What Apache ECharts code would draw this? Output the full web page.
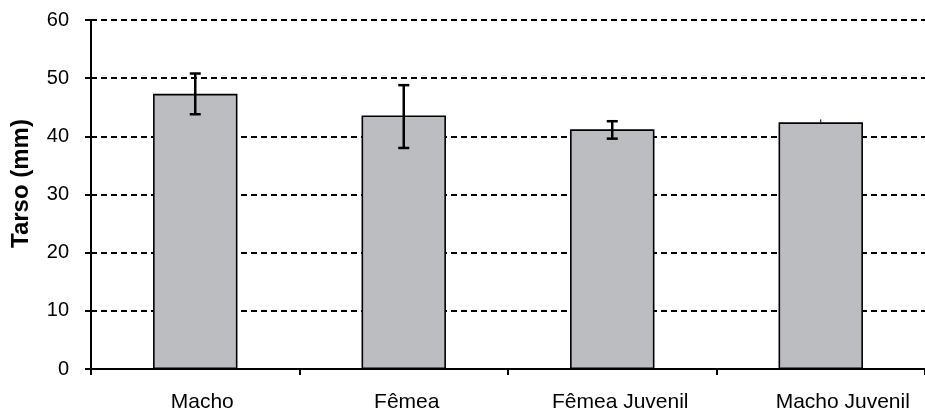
<!DOCTYPE html>
<html>
<head>
<meta charset="utf-8">
<script src="https://cdn.jsdelivr.net/npm/echarts@6/dist/echarts.min.js"></script>
<style>html,body{margin:0;padding:0;background:#fff;}#c{width:925px;height:414px;}</style>
</head>
<body>
<div id="c"></div>
<script>
var categories = ['Macho', 'Fêmea', 'Fêmea Juvenil', 'Macho Juvenil'];
var means = [47.3, 43.6, 41.2, 42.4];
var errHigh = [50.8, 48.8, 42.6, 42.4];
var errLow = [43.8, 38.0, 39.6, 42.4];
var yTicks = [0, 10, 20, 30, 40, 50, 60];

// small horizontal nudges of the category labels (layout only)
var labelShift = [14, 6, 16, 44];

var chart = echarts.init(document.getElementById('c'), null, {renderer: 'canvas'});
var font = 'Liberation Sans, Arial, sans-serif';
chart.setOption({
  animation: false,
  backgroundColor: '#fff',
  grid: {left: 91, top: 20, width: 844, height: 349, containLabel: false},
  xAxis: {
    type: 'category',
    data: categories.map(function (c, i) {
      return {value: c, textStyle: {padding: [0, 0, 0, labelShift[i]]}};
    }),
    boundaryGap: true,
    axisLine: {lineStyle: {color: '#000', width: 2}},
    axisTick: {show: true, length: 6, lineStyle: {color: '#000', width: 2}},
    axisLabel: {color: '#000', fontSize: 21, fontFamily: font, margin: 23},
    splitLine: {show: false}
  },
  yAxis: {
    type: 'value',
    min: yTicks[0],
    max: yTicks[yTicks.length - 1],
    interval: 10,
    name: 'Tarso (mm)',
    nameLocation: 'middle',
    nameGap: 58,
    nameTextStyle: {color: '#000', fontSize: 24, fontWeight: 'bold', fontFamily: font, padding: [0, 0, 0, 22]},
    axisLine: {show: true, lineStyle: {color: '#000', width: 2}},
    axisTick: {show: true, length: 6, lineStyle: {color: '#000', width: 2}},
    axisLabel: {color: '#000', fontSize: 20, fontFamily: font, margin: 22},
    splitLine: {show: true, lineStyle: {color: '#000', width: 1.8, type: [6, 4]}}
  },
  series: [
    {
      type: 'bar',
      data: means,
      barWidth: '40.5%',
      itemStyle: {color: '#bcbdc0', borderColor: '#000', borderWidth: 1.6},
      z: 2
    },
    {
      type: 'custom',
      z: 3,
      data: categories.map(function (c, i) { return [i, errLow[i], errHigh[i]]; }),
      renderItem: function (params, api) {
        var lo = api.value(1), hi = api.value(2);
        if (hi - lo < 0.01) {
          var p = api.coord([api.value(0), hi]);
          return {type: 'line', shape: {x1: p[0], y1: p[1], x2: p[0], y2: p[1] - 3}, style: {stroke: '#000', lineWidth: 1}};
        }
        var top = api.coord([api.value(0), hi]);
        var bot = api.coord([api.value(0), lo]);
        var hw = 5.5;
        var st = {stroke: '#000', lineWidth: 2.5};
        return {
          type: 'group',
          children: [
            {type: 'line', shape: {x1: top[0], y1: top[1], x2: bot[0], y2: bot[1]}, style: st},
            {type: 'line', shape: {x1: top[0] - hw, y1: top[1], x2: top[0] + hw, y2: top[1]}, style: st},
            {type: 'line', shape: {x1: bot[0] - hw, y1: bot[1], x2: bot[0] + hw, y2: bot[1]}, style: st}
          ]
        };
      }
    }
  ]
});
</script>
</body>
</html>
